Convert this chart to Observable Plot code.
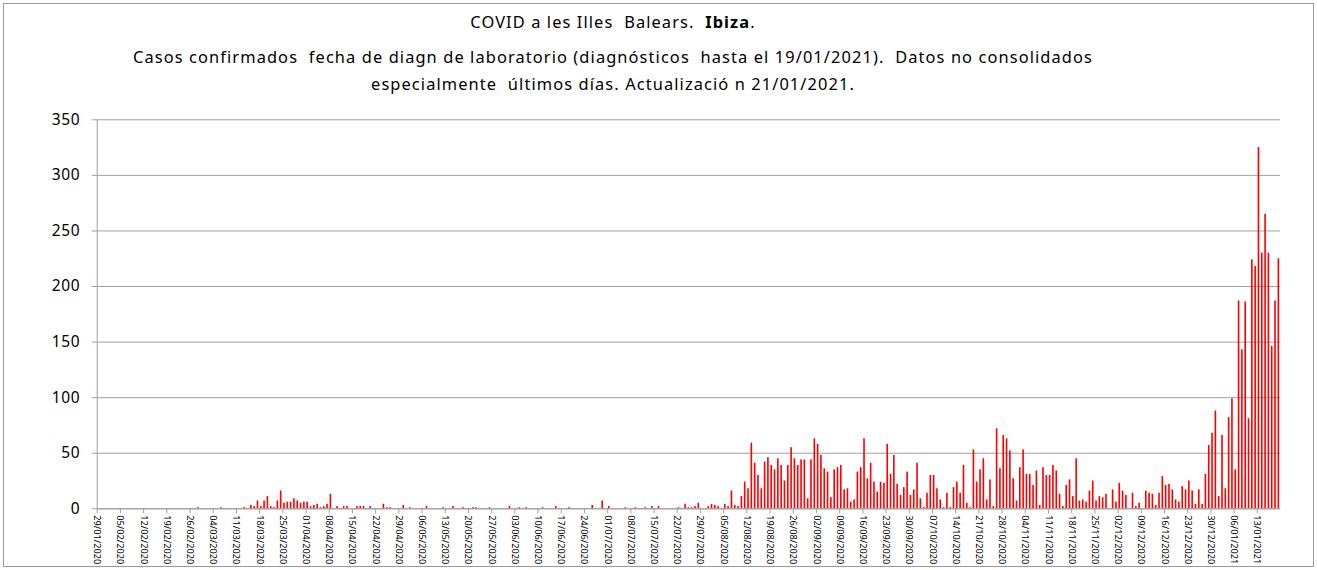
<!DOCTYPE html>
<html><head><meta charset="utf-8">
<script src="https://cdn.jsdelivr.net/npm/d3@7"></script>
<script src="https://cdn.jsdelivr.net/npm/@observablehq/plot@0.6"></script>
<style>
body{margin:0;background:#fff;font-family:"Noto Sans",sans-serif;}
#frame{position:absolute;left:3px;top:3px;width:1309px;height:562px;border:1px solid #9a9a9a;overflow:hidden;background:#fff}
.t{position:absolute;left:0;width:1218px;text-align:center;font-size:16.4px;letter-spacing:1.1px;white-space:pre;color:#000;line-height:20px}
#chart{position:absolute;left:-4px;top:96px;width:1317px;height:470px}
#chart svg{max-width:none !important}
#chart g[aria-label="y-axis tick label"] text{letter-spacing:0.6px}
</style></head><body>
<div id="frame">
<div class="t" style="top:8px">COVID a les Illes  Balears.  <b>Ibiza</b>.</div>
<div class="t" style="top:43px">Casos confirmados  fecha de diagn de laboratorio (diagnósticos  hasta el 19/01/2021).  Datos no consolidados</div>
<div class="t" style="top:70px">especialmente  últimos días. Actualizació n 21/01/2021.</div>
<div id="chart"></div>
</div>
<script>
// Daily confirmed cases, 29/01/2020 .. 19/01/2021 (one value per day)
const jan2020 = [0,0,0];
const feb2020 = [0,0,0,0,0,0,0,0,0,0,0,0,0,0,0,0,0,0,0,0,0,0,0,0,0,0,0,1,0];
const mar2020 = [0,0,0,0,0,1,0,0,0,0,0,0,1,0,3,2,7,2,7,11,2,1,7,16,5,6,6,9,7,5,6];
const apr2020 = [6,2,3,4,1,2,4,13,0,2,0,2,2,0,0,2,2,2,0,2,0,0,0,4,1,1,0,0,0,3];
const may2020 = [0,1,0,0,0,0,2,0,0,0,0,1,0,0,2,0,0,1,0,0,1,1,0,0,0,1,0,0,0,0,0];
const jun2020 = [2,0,0,1,0,1,0,0,0,0,1,0,0,0,2,0,0,0,1,0,0,0,0,0,0,3,0,0,7,0];
const jul2020 = [2,0,0,0,0,1,0,0,1,0,0,1,0,2,0,2,0,0,0,0,0,1,0,4,1,1,2,5,0,0,2];
const aug2020 = [4,3,2,0,4,2,16,3,2,11,24,18,59,41,30,18,42,46,39,35,45,39,25,39,55,45,39,44,44,9,44];
const sep2020 = [63,58,48,36,33,10,35,37,39,17,18,6,8,33,37,63,27,41,24,15,24,23,58,31,48,22,12,19,33,12];
const oct2020 = [17,41,9,1,14,30,30,18,8,1,14,1,19,24,14,39,5,1,53,24,35,45,8,26,2,72,36,66,63,52,27];
const nov2020 = [7,37,53,31,31,21,34,3,37,30,30,39,34,13,2,21,26,11,45,7,8,6,16,25,7,11,10,13,0,17];
const dec2020 = [6,23,16,12,0,14,2,5,0,16,14,13,3,14,29,21,22,17,8,6,20,17,25,16,4,17,4,31,57,68,88];
const jan2021 = [11,66,18,82,99,35,187,143,186,81,224,218,325,230,265,230,146,187,225];
const yTicks = [0,50,100,150,200,250,300,350];

const startDate = new Date(Date.UTC(2020,0,29));
const dayCounts = [...jan2020,...feb2020,...mar2020,...apr2020,...may2020,...jun2020,...jul2020,...aug2020,...sep2020,...oct2020,...nov2020,...dec2020,...jan2021];
const rows = dayCounts.map((v,i)=>({date:d3.utcDay.offset(startDate,i), cases:v}));
const endDate = d3.utcDay.offset(startDate, dayCounts.length);
const xTicks = d3.range(0, dayCounts.length, 7).map(i=>d3.utcDay.offset(startDate,i));

const chart = Plot.plot({
  width:1317, height:470,
  marginLeft:96.7, marginRight:37, marginTop:19.3, marginBottom:61.7,
  style:{background:"transparent", fontFamily:"'Noto Sans', sans-serif", color:"#000", overflow:"visible", maxWidth:"none"},
  x:{type:"utc", domain:[startDate,endDate]},
  y:{domain:[0,350]},
  marks:[
    Plot.gridY(yTicks,{stroke:"#a0a0a0", strokeOpacity:1, strokeWidth:1}),
    Plot.rectY(rows,{x1:"date", x2:d=>d3.utcDay.offset(d.date,1), y:"cases", fill:"#ff0000", insetLeft:0.85, insetRight:0.85}),
    Plot.ruleX([startDate],{stroke:"#a0a0a0"}),
    Plot.ruleY([0],{stroke:"#a0a0a0"}),
    Plot.axisY(yTicks,{tickSize:5, tickPadding:12, fontSize:15.5, stroke:"#a0a0a0", fill:"#000", label:null}),
    Plot.axisX(xTicks,{tickFormat:d3.utcFormat("%d/%m/%Y"), tickRotate:90, tickSize:5, tickPadding:1.5, fontSize:9.2, stroke:"#a0a0a0", fill:"#000", label:null})
  ]
});
document.getElementById("chart").appendChild(chart);
</script>
</body></html>
